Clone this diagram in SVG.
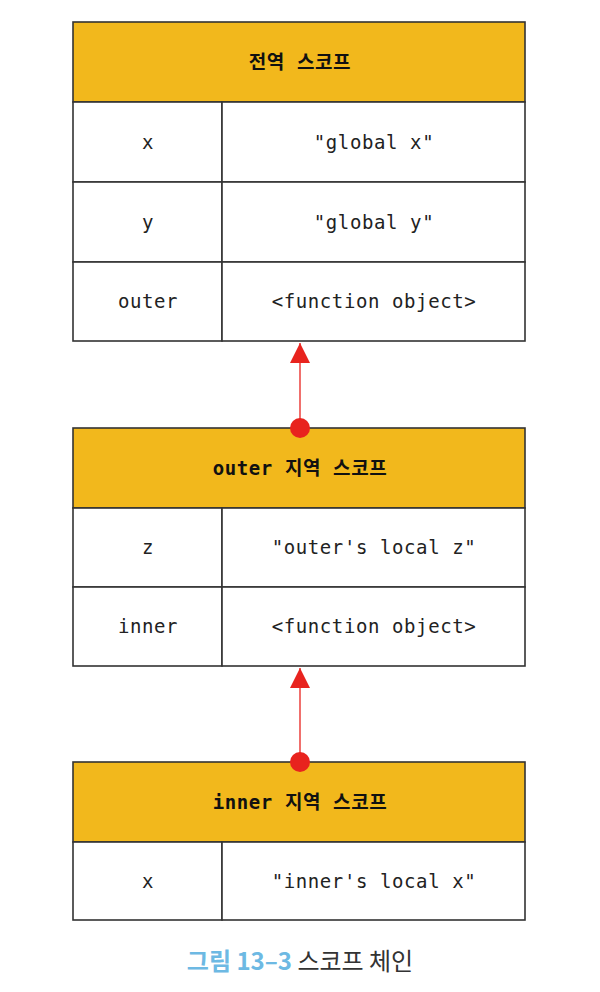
<svg xmlns="http://www.w3.org/2000/svg" width="600" height="992" viewBox="0 0 600 992">
<style>
.hd{fill:#F2B81C;stroke:#333;stroke-width:1.6}
.cell{fill:#fff;stroke:#333;stroke-width:1.6}
.t{font-family:"DejaVu Sans Mono","Noto Sans CJK KR",monospace;font-size:19px;letter-spacing:0.6px;fill:#222;text-anchor:middle;dominant-baseline:central}
.h{font-family:"DejaVu Sans Mono","Noto Sans CJK KR",monospace;font-size:19px;font-weight:bold;letter-spacing:0.6px;fill:#111;text-anchor:middle;dominant-baseline:central}
.cap{font-family:"Noto Sans CJK KR",sans-serif;font-size:24px;text-anchor:middle}
</style>
<defs>
<marker id="ah" viewBox="0 0 20 20" refX="20" refY="10" markerWidth="20" markerHeight="20" markerUnits="userSpaceOnUse" orient="auto">
<path d="M0,0 L20,10 L0,20 Z" fill="#E8231E"/>
</marker>
</defs>
<g id="global">
<rect class="hd" x="73" y="22" width="452" height="80"/>
<text class="h" x="300" y="62">전역 스코프</text>
<rect class="cell" x="73" y="102" width="149" height="80"/>
<rect class="cell" x="222" y="102" width="303" height="80"/>
<text class="t" x="148" y="142">x</text>
<text class="t" x="374" y="142">"global x"</text>
<rect class="cell" x="73" y="182" width="149" height="80"/>
<rect class="cell" x="222" y="182" width="303" height="80"/>
<text class="t" x="148" y="222">y</text>
<text class="t" x="374" y="222">"global y"</text>
<rect class="cell" x="73" y="262" width="149" height="79"/>
<rect class="cell" x="222" y="262" width="303" height="79"/>
<text class="t" x="148" y="301">outer</text>
<text class="t" x="374" y="301">&lt;function object&gt;</text>
</g>
<g id="outer">
<rect class="hd" x="73" y="428" width="452" height="80"/>
<text class="h" x="300" y="468">outer 지역 스코프</text>
<rect class="cell" x="73" y="508" width="149" height="79"/>
<rect class="cell" x="222" y="508" width="303" height="79"/>
<text class="t" x="148" y="547">z</text>
<text class="t" x="374" y="547">"outer's local z"</text>
<rect class="cell" x="73" y="587" width="149" height="79"/>
<rect class="cell" x="222" y="587" width="303" height="79"/>
<text class="t" x="148" y="626">inner</text>
<text class="t" x="374" y="626">&lt;function object&gt;</text>
</g>
<g id="inner">
<rect class="hd" x="73" y="762" width="452" height="80"/>
<text class="h" x="300" y="802">inner 지역 스코프</text>
<rect class="cell" x="73" y="842" width="149" height="78"/>
<rect class="cell" x="222" y="842" width="303" height="78"/>
<text class="t" x="148" y="881">x</text>
<text class="t" x="374" y="881">"inner's local x"</text>
</g>
<g id="connectors">
<line x1="300" y1="428" x2="300" y2="343" stroke="#E8231E" stroke-width="1.3" marker-end="url(#ah)"/>
<circle cx="300" cy="428" r="10" fill="#E8231E"/>
<line x1="300" y1="762" x2="300" y2="668" stroke="#E8231E" stroke-width="1.3" marker-end="url(#ah)"/>
<circle cx="300" cy="762" r="10" fill="#E8231E"/>
</g>
<g id="caption">
<text class="cap" x="300" y="970"><tspan fill="#6DB9E3" font-weight="bold">그림 13–3</tspan><tspan fill="#333"> 스코프 체인</tspan></text>
</g>
</svg>
